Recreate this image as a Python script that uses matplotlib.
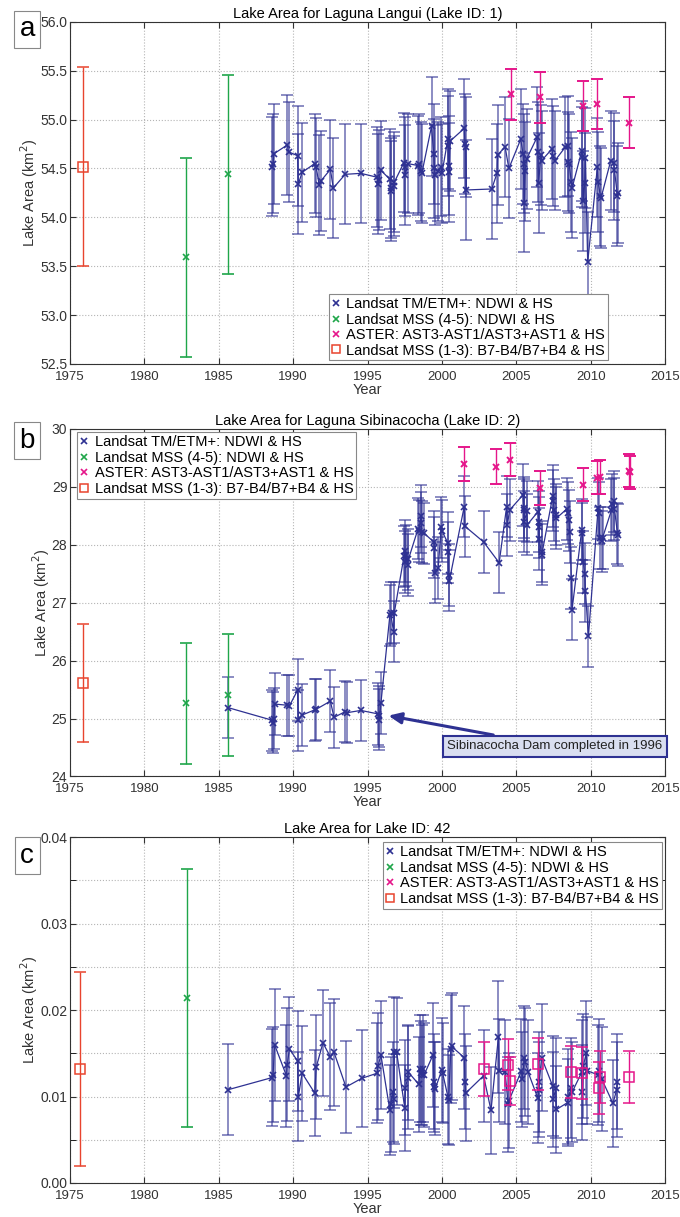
import numpy as np
import matplotlib
matplotlib.use('Agg')
import matplotlib.pyplot as plt
from matplotlib.lines import Line2D

plt.rcParams['font.family'] = ['Liberation Sans', 'DejaVu Sans']

#colours of the four sensors
BLUE = '#2e3192'
GREEN = '#1fa64a'
PINK = '#e5168a'
RED = '#e8442e'

legend_labels = ['Landsat TM/ETM+: NDWI & HS',
                 'Landsat MSS (4-5): NDWI & HS',
                 'ASTER: AST3-AST1/AST3+AST1 & HS',
                 'Landsat MSS (1-3): B7-B4/B7+B4 & HS']

### panel a - Laguna Langui
tm_years_a = [1988.60, 1988.65, 1988.70, 1989.60, 1989.70, 1990.30, 1990.35, 1990.60,
              1991.45, 1991.55, 1991.75, 1991.85, 1992.50, 1992.70, 1993.50, 1994.55,
              1995.65, 1995.70, 1995.75, 1995.90, 1996.50, 1996.55, 1996.60, 1996.75,
              1996.80, 1997.45, 1997.50, 1997.55, 1997.70, 1998.40, 1998.45, 1998.60,
              1998.65, 1999.30, 1999.45, 1999.50, 1999.55, 1999.75, 1999.95, 2000.00,
              2000.40, 2000.42, 2000.45, 2000.48, 2000.55, 2001.50, 2001.55, 2001.60,
              2001.65, 2003.35, 2003.70, 2003.75, 2004.25, 2004.50, 2005.30, 2005.45,
              2005.50, 2005.55, 2005.60, 2005.70, 2006.40, 2006.45, 2006.50, 2006.65,
              2006.70, 2007.40, 2007.45, 2007.60, 2008.30, 2008.45, 2008.50, 2008.55,
              2008.70, 2008.75, 2009.40, 2009.45, 2009.50, 2009.60, 2009.65, 2009.80,
              2010.45, 2010.50, 2010.65, 2010.70, 2011.35, 2011.55, 2011.60, 2011.80,
              2011.85]
tm_area_a = [54.52, 54.55, 54.65, 54.74, 54.67, 54.63, 54.34, 54.46,
             54.55, 54.51, 54.33, 54.37, 54.49, 54.30, 54.44, 54.45,
             54.41, 54.34, 54.38, 54.48, 54.39, 54.27, 54.30, 54.32,
             54.36, 54.56, 54.52, 54.43, 54.55, 54.53, 54.55, 54.47,
             54.45, 54.93, 54.65, 54.50, 54.43, 54.47, 54.52, 54.45,
             54.80, 54.73, 54.53, 54.46, 54.78, 54.91, 54.75, 54.72,
             54.28, 54.29, 54.45, 54.64, 54.72, 54.50, 54.80, 54.65,
             54.55, 54.15, 54.47, 54.60, 54.82, 54.67, 54.35, 54.64,
             54.58, 54.70, 54.63, 54.58, 54.72, 54.73, 54.57, 54.55,
             54.36, 54.30, 54.68, 54.62, 54.17, 54.35, 54.61, 53.54,
             54.51, 54.36, 54.22, 54.20, 54.58, 54.56, 54.48, 54.22,
             54.25]
tm_err_a = 0.51
mss45_years_a = [1982.8, 1985.6]
mss45_area_a = [53.59, 54.44]
mss45_err_a = [1.02, 1.02]
aster_years_a = [2004.65, 2006.6, 2009.5, 2010.45, 2012.6]
aster_area_a = [55.26, 55.23, 55.14, 55.16, 54.97]
aster_err_a = [0.26, 0.26, 0.26, 0.26, 0.26]
mss13_years_a = [1975.9]
mss13_area_a = [54.52]
mss13_err_a = [1.02]

### panel b - Laguna Sibinacocha
tm_years_b = [1985.60, 1988.60, 1988.65, 1988.70, 1988.75, 1989.60, 1989.75, 1990.30,
              1990.35, 1990.60, 1991.45, 1991.55, 1992.50, 1992.75, 1993.50, 1993.60,
              1994.55, 1995.70, 1995.75, 1995.80, 1995.90, 1996.50, 1996.55, 1996.75,
              1996.80, 1997.45, 1997.50, 1997.55, 1997.60, 1997.70, 1997.75, 1998.40,
              1998.45, 1998.60, 1998.62, 1998.65, 1998.80, 1999.45, 1999.50, 1999.55,
              1999.75, 1999.95, 2000.00, 2000.40, 2000.42, 2000.45, 2000.50, 2001.50,
              2001.55, 2002.80, 2003.85, 2004.35, 2004.40, 2004.55, 2005.45, 2005.50,
              2005.52, 2005.55, 2005.70, 2005.75, 2006.45, 2006.50, 2006.52, 2006.55,
              2006.70, 2006.75, 2007.45, 2007.50, 2007.55, 2007.65, 2007.70, 2008.40,
              2008.45, 2008.55, 2008.60, 2008.70, 2008.75, 2009.40, 2009.45, 2009.50,
              2009.60, 2009.65, 2009.85, 2010.50, 2010.55, 2010.60, 2010.75, 2010.80,
              2011.40, 2011.45, 2011.55, 2011.60, 2011.80, 2011.85]
tm_area_b = [25.19, 24.97, 24.93, 25.00, 25.25, 25.23, 25.22, 25.49,
             24.97, 25.06, 25.15, 25.16, 25.30, 25.02, 25.12, 25.10,
             25.14, 25.08, 25.04, 24.98, 25.27, 26.78, 26.82, 26.50,
             26.83, 27.80, 27.89, 27.70, 27.82, 27.65, 27.75, 28.28,
             28.24, 28.50, 28.38, 28.22, 28.20, 28.05, 27.95, 27.52,
             27.60, 28.30, 28.24, 28.03, 27.87, 27.48, 27.38, 28.66,
             28.32, 28.05, 27.69, 28.66, 28.34, 28.60, 28.86, 28.64,
             28.60, 28.40, 28.58, 28.35, 28.57, 28.40, 28.30, 28.10,
             27.83, 27.88, 28.84, 28.76, 28.60, 28.52, 28.46, 28.62,
             28.55, 28.42, 28.22, 27.43, 26.88, 28.26, 28.20, 27.70,
             27.50, 27.20, 26.42, 28.63, 28.55, 28.12, 28.06, 28.12,
             28.60, 28.70, 28.75, 28.62, 28.20, 28.17]
tm_err_b = 0.53
mss45_years_b = [1982.8, 1985.6]
mss45_area_b = [25.26, 25.41]
mss45_err_b = [1.05, 1.05]
aster_years_b = [2001.5, 2003.65, 2004.6, 2006.6, 2009.5, 2010.45, 2010.65, 2012.6, 2012.65]
aster_area_b = [29.40, 29.35, 29.47, 28.98, 29.04, 29.16, 29.17, 29.28, 29.25]
aster_err_b = [0.29, 0.30, 0.29, 0.29, 0.29, 0.29, 0.30, 0.29, 0.29]
mss13_years_b = [1975.9]
mss13_area_b = [25.61]
mss13_err_b = [1.02]

### panel c - Lake ID 42
tm_years_c = [1985.65, 1988.60, 1988.65, 1988.75, 1989.55, 1989.60, 1989.75, 1990.30,
              1990.35, 1990.60, 1991.45, 1991.55, 1992.00, 1992.50, 1992.75, 1993.55,
              1994.60, 1995.65, 1995.70, 1995.90, 1996.50, 1996.55, 1996.70, 1996.75,
              1996.80, 1996.95, 1997.50, 1997.55, 1997.70, 1997.75, 1998.45, 1998.50,
              1998.60, 1998.65, 1998.70, 1998.80, 1999.40, 1999.45, 1999.50, 1999.55,
              2000.00, 2000.05, 2000.40, 2000.45, 2000.60, 2000.65, 2001.50, 2001.55,
              2001.60, 2002.80, 2003.30, 2003.80, 2003.85, 2004.25, 2004.45, 2004.50,
              2005.35, 2005.40, 2005.55, 2005.60, 2005.80, 2006.45, 2006.50, 2006.55,
              2006.70, 2007.45, 2007.50, 2007.65, 2007.70, 2008.45, 2008.50, 2008.70,
              2008.75, 2009.40, 2009.45, 2009.50, 2009.70, 2009.75, 2010.50, 2010.55,
              2010.75, 2011.50, 2011.75, 2011.80]
tm_area_c = [0.0108, 0.0122, 0.0125, 0.0160, 0.0124, 0.0137, 0.0155, 0.0141,
             0.0100, 0.0127, 0.0104, 0.0134, 0.0162, 0.0146, 0.0151, 0.0111,
             0.0121, 0.0127, 0.0135, 0.0148, 0.0084, 0.0091, 0.0105, 0.0097,
             0.0151, 0.0152, 0.0087, 0.0110, 0.0122, 0.0128, 0.0114, 0.0132,
             0.0127, 0.0125, 0.0132, 0.0125, 0.0148, 0.0117, 0.0111, 0.0109,
             0.0131, 0.0127, 0.0100, 0.0096, 0.0155, 0.0158, 0.0145, 0.0117,
             0.0104, 0.0124, 0.0084, 0.0169, 0.0130, 0.0128, 0.0091, 0.0095,
             0.0130, 0.0120, 0.0145, 0.0140, 0.0128, 0.0098, 0.0108, 0.0117,
             0.0145, 0.0112, 0.0097, 0.0110, 0.0085, 0.0093, 0.0100, 0.0110,
             0.0105, 0.0128, 0.0105, 0.0135, 0.0150, 0.0130, 0.0125, 0.0130,
             0.0120, 0.0092, 0.0108, 0.0117]
tm_err_c = [0.0053, 0.0056, 0.0055, 0.0065, 0.0059, 0.0065, 0.0060, 0.0058,
            0.0051, 0.0055, 0.0050, 0.0060, 0.0061, 0.0062, 0.0062, 0.0053,
            0.0056, 0.0058, 0.0062, 0.0062, 0.0052, 0.0055, 0.0058, 0.0052,
            0.0064, 0.0062, 0.0050, 0.0055, 0.0060, 0.0055, 0.0055, 0.0062,
            0.0060, 0.0058, 0.0062, 0.0060, 0.0060, 0.0055, 0.0052, 0.0054,
            0.0060, 0.0058, 0.0055, 0.0052, 0.0062, 0.0062, 0.0060, 0.0055,
            0.0055, 0.0053, 0.0050, 0.0065, 0.0060, 0.0060, 0.0055, 0.0055,
            0.0060, 0.0055, 0.0060, 0.0062, 0.0060, 0.0052, 0.0055, 0.0058,
            0.0062, 0.0058, 0.0055, 0.0058, 0.0050, 0.0050, 0.0055, 0.0058,
            0.0058, 0.0060, 0.0055, 0.0060, 0.0060, 0.0062, 0.0058, 0.0060,
            0.0060, 0.0050, 0.0055, 0.0055]
mss45_years_c = [1982.85]
mss45_area_c = [0.0214]
mss45_err_c = [0.0149]
aster_years_c = [2002.8, 2004.45, 2004.6, 2006.45, 2008.65, 2009.45, 2010.55, 2010.6, 2012.6]
aster_area_c = [0.0132, 0.0137, 0.0118, 0.0138, 0.0128, 0.0127, 0.0110, 0.0123, 0.0123]
aster_err_c = [0.0031, 0.0030, 0.0028, 0.0030, 0.0030, 0.0030, 0.0030, 0.0030, 0.0030]
mss13_years_c = [1975.65]
mss13_area_c = [0.0132]
mss13_err_c = [0.0112]


def draw_panel(ax, tm, mss45, aster, mss13, aster_marker='x'):
    # Landsat TM/ETM+ series with connecting line
    ax.errorbar(tm[0], tm[1], yerr=tm[2], fmt='none', ecolor=BLUE, alpha=0.7,
                elinewidth=1.1, capsize=4, capthick=1.1, zorder=3)
    ax.plot(tm[0], tm[1], '-x', color=BLUE, lw=0.9, ms=5, mew=1.2, zorder=4)
    ax.errorbar(mss45[0], mss45[1], yerr=mss45[2], fmt='x', color=GREEN,
                ms=5, mew=1.2, elinewidth=1, capsize=4, zorder=3)
    if aster_marker == 's':
        ax.errorbar(aster[0], aster[1], yerr=aster[2], fmt='s', color=PINK, mfc='none',
                    ms=7, mew=1.1, elinewidth=1, capsize=4, zorder=5)
    else:
        ax.errorbar(aster[0], aster[1], yerr=aster[2], fmt='x', color=PINK,
                    ms=5, mew=1.4, elinewidth=1, capsize=4, zorder=5)
    ax.errorbar(mss13[0], mss13[1], yerr=mss13[2], fmt='s', color=RED, mfc='none',
                ms=7, mew=1.1, elinewidth=1, capsize=4, zorder=3)

    ax.set_xlim(1975, 2015)
    ax.set_xticks(np.arange(1975, 2016, 5))
    ax.grid(True, ls=':', color='#b5b5b5', lw=0.8)
    ax.tick_params(direction='in', top=True, right=True, labelsize=10, length=4,
                   colors='#333333', pad=2)
    ax.tick_params(axis='x', pad=5, labelsize=9.5)
    for s in ax.spines.values():
        s.set_color('#333333')
    ax.set_xlabel('Year', fontsize=10.5, labelpad=0, color='#333333')
    ax.set_ylabel('Lake Area (km$^2$)', fontsize=10.5, labelpad=0, color='#333333')


def add_legend(ax, **kw):
    handles = [Line2D([], [], ls='none', marker='x', color=BLUE, ms=5, mew=1.2),
               Line2D([], [], ls='none', marker='x', color=GREEN, ms=5, mew=1.2),
               Line2D([], [], ls='none', marker='x', color=PINK, ms=5, mew=1.2),
               Line2D([], [], ls='none', marker='s', color=RED, mfc='none', ms=6, mew=1.1)]
    leg = ax.legend(handles, legend_labels, fontsize=10.5, handlelength=0.6,
                    handletextpad=0.4, borderpad=0.2, labelspacing=0.1,
                    fancybox=False, framealpha=1, borderaxespad=0, **kw)
    leg.get_frame().set_edgecolor('#888888')
    leg.get_frame().set_linewidth(0.8)


def panel_tag(fig, x, y, letter):
    fig.text(x, y, letter, fontsize=20, ha='center', va='center',
             bbox=dict(boxstyle='square,pad=0.2', fc='white', ec='#888888', lw=0.8))


fig = plt.figure(figsize=(6.8, 12.17), dpi=100)

ax_a = fig.add_axes([0.103, 0.701, 0.875, 0.281])
draw_panel(ax_a, (tm_years_a, tm_area_a, tm_err_a),
           (mss45_years_a, mss45_area_a, mss45_err_a),
           (aster_years_a, aster_area_a, aster_err_a),
           (mss13_years_a, mss13_area_a, mss13_err_a))
ax_a.set_ylim(52.5, 56.0)
ax_a.set_yticks(np.arange(52.5, 56.01, 0.5))
ax_a.yaxis.set_major_formatter(matplotlib.ticker.FormatStrFormatter('%.1f'))
ax_a.set_title('Lake Area for Laguna Langui (Lake ID: 1)', fontsize=10.5, pad=3)
add_legend(ax_a, loc='lower left', bbox_to_anchor=(0.435, 0.01))

ax_b = fig.add_axes([0.103, 0.362, 0.875, 0.2855])
draw_panel(ax_b, (tm_years_b, tm_area_b, tm_err_b),
           (mss45_years_b, mss45_area_b, mss45_err_b),
           (aster_years_b, aster_area_b, aster_err_b),
           (mss13_years_b, mss13_area_b, mss13_err_b))
ax_b.set_ylim(24, 30)
ax_b.set_yticks(np.arange(24, 30.1, 1))
ax_b.set_title('Lake Area for Laguna Sibinacocha (Lake ID: 2)', fontsize=10.5, pad=3)
add_legend(ax_b, loc='upper left', bbox_to_anchor=(0.012, 0.99))
ax_b.annotate('Sibinacocha Dam completed in 1996', xy=(1996.4, 25.05),
              xytext=(2007.6, 24.52), fontsize=9.5, ha='center', va='center',
              color='#222222',
              bbox=dict(boxstyle='square,pad=0.35', fc='#d9def0', ec=BLUE, lw=1.5),
              arrowprops=dict(arrowstyle='-|>,head_width=0.35,head_length=0.8',
                              color=BLUE, lw=2.2, shrinkA=0, shrinkB=0),
              zorder=6)

ax_c = fig.add_axes([0.103, 0.028, 0.875, 0.284])
draw_panel(ax_c, (tm_years_c, tm_area_c, tm_err_c),
           (mss45_years_c, mss45_area_c, mss45_err_c),
           (aster_years_c, aster_area_c, aster_err_c),
           (mss13_years_c, mss13_area_c, mss13_err_c), aster_marker='s')
ax_c.set_ylim(0, 0.04)
ax_c.set_yticks([0, 0.01, 0.02, 0.03, 0.04])
ax_c.set_yticks([0.005, 0.015, 0.025, 0.035], minor=True)
ax_c.yaxis.set_major_formatter(matplotlib.ticker.FormatStrFormatter('%.2f'))
ax_c.grid(True, which='minor', axis='y', ls=':', color='#b5b5b5', lw=0.8)
ax_c.tick_params(which='minor', direction='in', right=True, length=4)
ax_c.set_title('Lake Area for Lake ID: 42', fontsize=10.5, pad=3)
add_legend(ax_c, loc='upper right', bbox_to_anchor=(0.995, 0.985))

panel_tag(fig, 0.04, 0.976, 'a')
panel_tag(fig, 0.04, 0.638, 'b')
panel_tag(fig, 0.04, 0.297, 'c')

fig.savefig('out.png', dpi=100)
